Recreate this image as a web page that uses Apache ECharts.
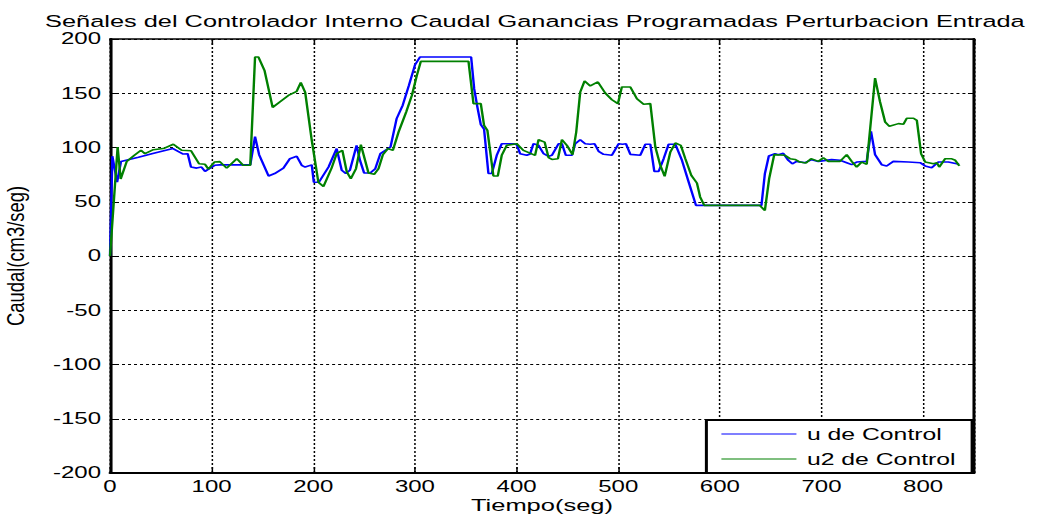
<!DOCTYPE html>
<html>
<head>
<meta charset="utf-8">
<script src="https://cdn.jsdelivr.net/npm/echarts@6/dist/echarts.min.js"></script>
<style>
  html, body { margin: 0; padding: 0; background: #fff; overflow: hidden; }
  #wrap { width: 1037px; height: 521px; overflow: hidden; position: relative; }
  /* the figure is laid out narrow and stretched sideways, like the exported plot */
  #chart { width: 691px; height: 521px; transform: scaleX(1.50072); transform-origin: 0 0; }
</style>
</head>
<body>
<div id="wrap"><div id="chart"></div></div>
<script>
// Tiempo (seg) and flow (cm3/seg) samples of the two control signals
const tU = [0, 2.3, 7, 10.8, 28, 44, 62, 67, 72, 76.4, 79.7, 85.3, 90, 93.5, 98.4, 103, 108, 138, 142.7, 146.7,
  156, 162, 170.6, 177, 183.7, 188.6, 192, 198.5, 200.5, 205.5, 215, 223, 228, 232, 236, 242.6, 246, 250, 256, 261,
  266, 271, 276, 282, 288, 294, 300, 305, 355.3, 358.3, 361.5, 364.8, 368, 372.3, 375.6, 380.5, 385.4, 397, 400.2, 403.5,
  410, 413.3, 416.6, 421.6, 426.6, 431.5, 434.8, 441.3, 444.6, 448.5, 454.4, 457.7, 462.6, 467.5, 472.4, 476.7, 480.7, 485.6, 493.8, 500.4,
  504.3, 507.6, 511.9, 521.7, 526.7, 531.6, 535.5, 539.8, 544.7, 549.6, 556.2, 562.7, 569.3, 576.5, 640.9, 644.3, 648.2, 654.2, 657.5, 662.4,
  667.3, 671.3, 675.5, 683.7, 690.3, 696.9, 710, 718.2, 724.8, 729.7, 734.6, 744.5, 748.7, 752.7, 759.2, 764.1, 770.7, 785.5, 797, 801.9,
  808.4, 815, 824.8, 835.3];
const u = [0, 92, 68, 87, 91, 95, 99, 96.5, 94, 94.3, 82, 81, 82, 78, 81, 83.6, 84, 84, 110, 93.4,
  73.7, 76, 81, 89.7, 92, 83.6, 82, 84, 68, 68, 82, 99, 79, 76, 79, 102, 88, 76.5, 76.5, 80.5,
  94.3, 97.4, 100.5, 126.6, 139, 157, 176, 183.4, 183.4, 154, 137, 121, 117, 76, 76, 92.8, 103.5, 103.5, 102.6, 94.3,
  92.8, 94, 103.5, 102, 94.3, 91.9, 92.8, 103.5, 103.5, 92.8, 92.8, 103.5, 107.2, 103.5, 103, 103.5, 96.5, 93.7, 92.8, 103.5,
  103, 103.5, 93.7, 92.8, 103, 103, 78, 78, 89.7, 103, 103, 88.2, 68.2, 46.7, 46.7, 76, 92.2, 94.3, 93.4, 94.6,
  88.2, 85, 87.2, 86, 88.8, 87.2, 88.8, 88.2, 86, 84.2, 86.6, 87.2, 115, 93.4, 84.2, 82.9, 87.2, 86.6, 86, 83,
  81.4, 86.6, 86.6, 84.5];

const tU2 = [0, 7.5, 10.5, 16.4, 24, 30.5, 34.4, 42.7, 52.5, 62.3, 70.5, 79.7, 87.6, 93.5, 96.8, 102.7, 108, 114.8, 124.7, 131,
  138, 142.7, 146, 152, 160, 167, 175.5, 183.7, 187.7, 192, 198.5, 205, 210, 218, 223, 228.6, 233, 236.9, 242, 246.8,
  254.3, 259.9, 264.2, 268.5, 273.4, 278.3, 283.9, 291.4, 297, 301.9, 305.8, 352.7, 357.6, 364.8, 368, 371.3, 377.2, 381.5, 385.4, 390.4,
  400.2, 406.7, 412.6, 418.2, 421.6, 427.6, 431.5, 434.8, 440.7, 444.6, 449.5, 455.1, 458.7, 462.6, 466.9, 472.5, 480, 487.2, 493.8, 499.7,
  503.6, 511.9, 518.4, 525, 531.6, 536.5, 541.4, 545.7, 551.3, 556.2, 561.6, 566, 571.9, 577.4, 580.6, 584.6, 639.2, 644.3, 648.5, 653.5,
  664, 669, 673.9, 678.8, 684.7, 689.7, 696.9, 701.8, 706.7, 718.2, 724.8, 729.7, 734.6, 739.6, 744.5, 752.7, 757.6, 762.6, 766.8, 775.7,
  780.6, 783.9, 790.5, 793.8, 798, 802, 810.2, 813.5, 815.8, 821.7, 827.6, 831.6, 835.6];
const u2 = [0, 100.5, 71, 87, 92.8, 97.4, 94.3, 98, 99, 103, 97.4, 97, 85, 84.5, 80, 86.6, 87, 81, 89.7, 83.6,
  83.6, 183.4, 183.4, 171, 137, 142, 148, 151.8, 160, 151, 106.6, 68, 64, 81, 94.3, 97.4, 77.4, 71.3, 80.5, 102.6,
  76.5, 75.3, 80.5, 93.4, 99, 97.4, 114.3, 132.7, 148, 166.5, 179.4, 179.4, 140.4, 140.4, 120.4, 115.8, 73.7, 73.7, 92.8, 102,
  103.5, 97.4, 95, 92.8, 107.2, 105, 90.6, 89, 89.7, 107.2, 102, 93.4, 114.3, 151, 161.3, 156.7, 160.4, 150.2, 144, 140.4,
  155.8, 155.8, 145, 139.8, 140.4, 100.5, 83.6, 73.4, 95.9, 104.1, 102, 89.7, 74.3, 67.3, 54.4, 46.7, 46.7, 42, 71.3, 93.4,
  92.8, 89.7, 89, 86.6, 85.7, 89.7, 87.2, 90.6, 87.2, 87.2, 93.4, 87.2, 82, 86.6, 84.5, 164, 142, 123.5, 119.5, 122,
  121.4, 127, 127, 125, 94.3, 86.6, 85, 86, 82, 89.7, 89.7, 88.2, 83];

const seriesNames = ['u de Control', 'u2 de Control'];
const xTicks = { min: 0, max: 850, step: 100 };
const yTicks = { min: -200, max: 200, step: 50 };

const FONT = 'Liberation Sans, Arial, Helvetica, sans-serif';
const pairs = (t, v) => t.map((x, i) => [x, v[i]]);

const chart = echarts.init(document.getElementById('chart'), null, { renderer: 'svg' });

const gridDash = { color: '#000', width: 1, type: [2, 2] };

chart.setOption({
  animation: false,
  backgroundColor: '#fff',
  title: {
    text: 'Señales del Controlador Interno Caudal Ganancias Programadas Perturbacion Entrada',
    left: 25, top: 8,
    textStyle: { fontFamily: FONT, fontSize: 16.9, fontWeight: 'normal', color: '#000' }
  },
  grid: { left: 73.3, right: 42, top: 39, bottom: 48, containLabel: false },
  legend: {
    data: seriesNames,
    orient: 'vertical',
    left: 470.7, top: 420,
    // plain thin line as the key, no marker
    icon: 'path://M0 0H100V2H0Z',
    itemWidth: 54, itemHeight: 1, itemGap: 7,
    padding: [5, 11, 5, 10],
    borderColor: '#000', borderWidth: 2, backgroundColor: '#fff',
    selectedMode: false,
    textStyle: { fontFamily: FONT, fontSize: 16.5, lineHeight: 18, color: '#000' }
  },
  xAxis: [{
    type: 'value', min: xTicks.min, max: xTicks.max, interval: xTicks.step, position: 'bottom',
    name: 'Tiempo(seg)', nameLocation: 'middle', nameGap: 24, nameMoveOverlap: false,
    nameTextStyle: { fontFamily: FONT, fontSize: 17, color: '#000' },
    axisLine: { show: true, onZero: false, lineStyle: { color: '#000', width: 2 } },
    axisTick: { show: true, inside: true, length: 6, lineStyle: { color: '#000', width: 1 } },
    axisLabel: { color: '#000', fontFamily: FONT, fontSize: 16, margin: 6, showMaxLabel: false },
    splitLine: { show: true, lineStyle: gridDash }
  }, {
    type: 'value', min: xTicks.min, max: xTicks.max, interval: xTicks.step, position: 'top',
    axisLine: { show: true, onZero: false, lineStyle: { color: '#000', width: 1.5 } },
    axisTick: { show: true, inside: true, length: 6, lineStyle: { color: '#000', width: 1 } },
    axisLabel: { show: false }, splitLine: { show: false }
  }],
  yAxis: [{
    type: 'value', min: yTicks.min, max: yTicks.max, interval: yTicks.step, position: 'left',
    axisLine: { show: true, onZero: false, lineStyle: { color: '#000', width: 2 } },
    axisTick: { show: true, inside: true, length: 4, lineStyle: { color: '#000', width: 1 } },
    axisLabel: { color: '#000', fontFamily: FONT, fontSize: 16, margin: 6 },
    splitLine: { show: true, lineStyle: gridDash }
  }, {
    type: 'value', min: yTicks.min, max: yTicks.max, interval: yTicks.step, position: 'right',
    axisLine: { show: true, onZero: false, lineStyle: { color: '#000', width: 2 } },
    axisTick: { show: true, inside: true, length: 4, lineStyle: { color: '#000', width: 1 } },
    axisLabel: { show: false }, splitLine: { show: false }
  }],
  graphic: [{
    type: 'text',
    x: 10.7, y: 256,
    rotation: Math.PI / 2,
    scaleX: 1.15,
    style: {
      text: 'Caudal(cm3/seg)', fill: '#000', fontFamily: FONT, fontSize: 16,
      textAlign: 'center', textVerticalAlign: 'middle', align: 'center', verticalAlign: 'middle'
    }
  }],
  series: [{
    name: seriesNames[0], type: 'line', xAxisIndex: 0, yAxisIndex: 0,
    symbol: 'none', data: pairs(tU, u),
    lineStyle: { color: '#0000ff', width: 1.6 }, itemStyle: { color: '#0000ff' }
  }, {
    name: seriesNames[1], type: 'line', xAxisIndex: 0, yAxisIndex: 0,
    symbol: 'none', data: pairs(tU2, u2),
    lineStyle: { color: '#008000', width: 1.6 }, itemStyle: { color: '#008000' }
  }]
});
</script>
</body>
</html>
